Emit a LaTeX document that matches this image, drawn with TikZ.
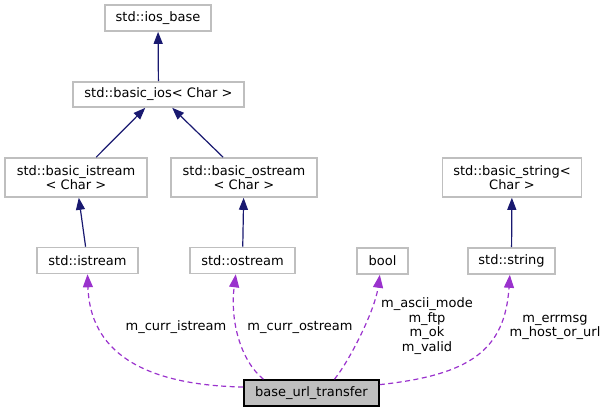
\documentclass[tikz,border=0pt]{standalone}
\usepackage{fontspec}
\setmainfont{DejaVu Sans}
\usetikzlibrary{arrows.meta}
\definecolor{edgeblue}{HTML}{191970}
\definecolor{edgepurple}{HTML}{9A32CD}
\definecolor{boxgrey}{HTML}{BFBFBF}
\begin{document}
\begin{tikzpicture}[x=1pt,y=-1pt,
  txt/.style={inner sep=0pt, align=center, font=\fontsize{13}{14.5}\selectfont},
  box/.style={txt, draw=boxgrey, line width=1.6pt},
  mainbox/.style={txt, draw=black, fill=boxgrey, line width=1.6pt},
  inh/.style={draw=edgeblue, line width=1.2pt, -{Triangle[length=12pt,width=9pt]}},
  usage/.style={draw=edgepurple, line width=1.2pt, dash pattern=on 5pt off 3.5pt, -{Triangle[length=13pt,width=10pt]}},
  lbl/.style={inner sep=0pt, align=center, font=\fontsize{13}{14.7}\selectfont}
]
\useasboundingbox (0,0) rectangle (608,413);

\node[box, minimum width=106pt, minimum height=26pt] (iosbase) at (158,18) {std::ios\_base};
\node[box, minimum width=171pt, minimum height=25pt] (basicios) at (158.5,94.5) {std::basic\_ios< Char >};
\node[box, minimum width=142pt, minimum height=39pt] (bistream) at (76,177.5) {std::basic\_istream\\< Char >};
\node[box, minimum width=146pt, minimum height=39pt] (bostream) at (244,177.5) {std::basic\_ostream\\< Char >};
\node[box, minimum width=139pt, minimum height=39pt] (bstring) at (512,177.5) {std::basic\_string<\\Char >};
\node[box, minimum width=101pt, minimum height=26pt] (istream) at (87.5,260.5) {std::istream};
\node[box, minimum width=105pt, minimum height=26pt] (ostream) at (242.5,260.5) {std::ostream};
\node[box, minimum width=51pt, minimum height=26pt] (bool) at (382.5,261) {bool};
\node[box, minimum width=87pt, minimum height=26pt] (string) at (511.5,261) {std::string};
\node[mainbox, minimum width=135pt, minimum height=26pt] (base) at (311.5,393) {base\_url\_transfer};

\draw[inh] (basicios) -- (iosbase);
\draw[inh] (bistream) -- (basicios);
\draw[inh] (bostream) -- (basicios);
\draw[inh] (istream) -- (bistream);
\draw[inh] (ostream) -- (bostream);
\draw[inh] (string) -- (bstring);

\draw[usage] (base.175) .. controls (140,385) and (90,350) .. (istream.south);
\draw[usage] (base.164) .. controls (240,360) and (230,320) .. (ostream.-116);
\draw[usage] (base.31) .. controls (350,360) and (375,310) .. (bool.-101);
\draw[usage] (base.7) .. controls (470,375) and (505,350) .. (string.-97);

\node[lbl] (l1) at (176,327) {m\_curr\_istream};
\node[lbl] (l2) at (300,327) {m\_curr\_ostream};
\node[lbl] (l3) at (427,326) {m\_ascii\_mode\\m\_ftp\\m\_ok\\m\_valid};
\node[lbl] (l4) at (555,327.5) {m\_errmsg\\m\_host\_or\_url};
\end{tikzpicture}
\end{document}
